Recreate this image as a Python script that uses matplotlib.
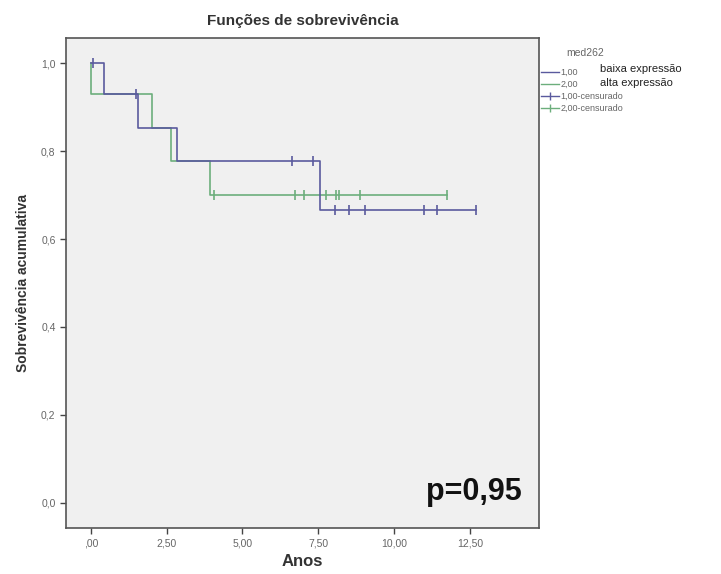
import numpy as np
import matplotlib
matplotlib.use('Agg')
import matplotlib.pyplot as plt
from matplotlib.lines import Line2D

plt.rcParams['font.family'] = ['Liberation Sans', 'DejaVu Sans']

# Curvas de Kaplan-Meier (tempo em anos, sobrevivência)
baixa_t = [0.0, 0.43, 1.56, 2.83, 7.56, 12.70]
baixa_s = [1.0, 0.930, 0.853, 0.777, 0.666, 0.666]
baixa_cens = [0.08, 1.49, 6.65, 7.31, 8.05, 8.53, 9.05, 11.00, 11.43, 12.70]

alta_t = [0.0, 0.0, 2.03, 2.63, 3.93, 11.76]
alta_s = [1.0, 0.930, 0.853, 0.777, 0.700, 0.700]
alta_cens = [4.06, 6.73, 7.04, 7.77, 8.10, 8.20, 8.88, 11.76]

xticks = [0, 2.5, 5, 7.5, 10, 12.5]
xlabels = [',00', '2,50', '5,00', '7,50', '10,00', '12,50']
yticks = [0.0, 0.2, 0.4, 0.6, 0.8, 1.0]
ylabels = ['0,0', '0,2', '0,4', '0,6', '0,8', '1,0']

cor_baixa = '#5a5a9e'
cor_alta = '#6cae7c'


def nivel(t, s, x):
    # valor da curva em degrau no tempo x
    i = np.searchsorted(t, x, side='right') - 1
    return np.array(s)[i]


fig = plt.figure(figsize=(7.21, 5.74), dpi=100)
ax = fig.add_axes([0.0915, 0.0801, 0.6561, 0.8537])
ax.set_facecolor('#f0f0f0')

ax.plot(alta_t, alta_s, drawstyle='steps-post', color=cor_alta, lw=1.2)
ax.plot(baixa_t, baixa_s, drawstyle='steps-post', color=cor_baixa, lw=1.2)
ax.plot(baixa_cens, nivel(baixa_t, baixa_s, baixa_cens), ls='none',
        marker='|', ms=7, mew=1.2, color=cor_baixa)
ax.plot(alta_cens, nivel(alta_t, alta_s, alta_cens), ls='none',
        marker='|', ms=7, mew=1.2, color=cor_alta)

ax.set_xlim(-0.82, 14.78)
ax.set_ylim(-0.057, 1.057)
ax.set_xticks(xticks)
ax.set_xticklabels(xlabels)
ax.set_yticks(yticks)
ax.set_yticklabels(ylabels)
ax.tick_params(direction='out', length=4, width=1, colors='#444444',
               labelsize=7.5, labelcolor='#666666')
for sp in ax.spines.values():
    sp.set_color('#555555')
    sp.set_linewidth(1.2)

ax.set_title('Funções de sobrevivência', fontsize=11, fontweight='bold',
             color='#333333', pad=9)
ax.set_xlabel('Anos', fontsize=12, fontweight='bold', color='#333333', labelpad=4)
ax.set_ylabel('Sobrevivência acumulativa', fontsize=10, fontweight='bold',
              color='#333333', labelpad=8)

ax.text(14.2, 0.025, 'p=0,95', fontsize=22, fontweight='bold',
        ha='right', va='center', color='#111111')

handles = [
    Line2D([], [], color=cor_baixa, lw=1, drawstyle='steps-post'),
    Line2D([], [], color=cor_alta, lw=1, drawstyle='steps-post'),
    Line2D([], [], color=cor_baixa, lw=1, marker='|', ms=6),
    Line2D([], [], color=cor_alta, lw=1, marker='|', ms=6),
]
leg = ax.legend(handles, ['1,00', '2,00', '1,00-censurado', '2,00-censurado'],
                loc='upper left', bbox_to_anchor=(1.005, 0.939),
                frameon=False, fontsize=6.5,
                borderaxespad=0, borderpad=0, handlelength=1.9,
                handletextpad=0.2, labelspacing=0.33)
for t in leg.get_texts():
    t.set_color('#666666')

fig.text(0.811, 1 - 52.5 / 574, 'med262', fontsize=7.5, color='#666666',
         ha='center', va='center')
fig.text(0.832, 1 - 69 / 574, 'baixa expressão', fontsize=8, color='#222222', va='center')
fig.text(0.832, 1 - 83 / 574, 'alta expressão', fontsize=8, color='#222222', va='center')

fig.savefig('out.png', dpi=100, facecolor='white')
